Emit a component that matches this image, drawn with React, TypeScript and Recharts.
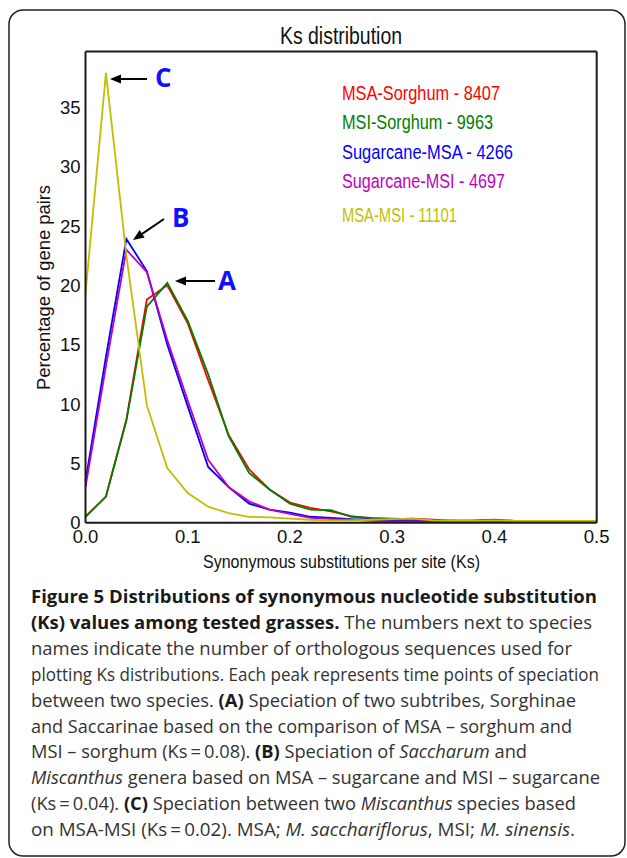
import React from 'react';
import { LineChart, Line, XAxis, YAxis } from 'recharts';

const ksValues = [0, 0.02, 0.04, 0.06, 0.08, 0.1, 0.12, 0.14, 0.16, 0.18, 0.2, 0.22, 0.24, 0.26, 0.28, 0.3, 0.32, 0.34, 0.36, 0.38, 0.4, 0.42, 0.44, 0.46, 0.48, 0.5];
const msaSorghum = [0.5, 2.2, 8.7, 18.8, 20.0, 16.8, 12.0, 7.4, 4.5, 2.8, 1.7, 1.25, 0.95, 0.55, 0.35, 0.3, 0.35, 0.25, 0.15, 0.15, 0.2, 0.15, 0.1, 0.15, 0.15, 0.1];
const msiSorghum = [0.5, 2.2, 8.6, 18.2, 20.2, 17.0, 12.5, 7.3, 4.2, 2.8, 1.6, 1.1, 1.05, 0.5, 0.4, 0.35, 0.3, 0.2, 0.15, 0.2, 0.25, 0.15, 0.15, 0.1, 0.1, 0.1];
const sugarcaneMsa = [3.5, 14.0, 23.9, 21.2, 15.0, 9.8, 4.7, 3.0, 1.6, 1.1, 0.85, 0.5, 0.4, 0.3, 0.25, 0.2, 0.15, 0.1, 0.1, 0.15, 0.1, 0.1, 0.05, 0.05, 0.05, 0.05];
const sugarcaneMsi = [3.0, 13.2, 23.0, 21.1, 15.4, 10.3, 5.3, 3.0, 1.8, 1.1, 0.75, 0.4, 0.3, 0.25, 0.15, 0.1, 0.1, 0.1, 0.2, 0.15, 0.2, 0.1, 0.1, 0.1, 0.1, 0.05];
const msaMsi = [19.3, 37.9, 22.5, 9.9, 4.6, 2.5, 1.35, 0.8, 0.5, 0.45, 0.35, 0.25, 0.2, 0.2, 0.25, 0.3, 0.35, 0.2, 0.15, 0.15, 0.2, 0.15, 0.15, 0.15, 0.15, 0.15];

const xTicks = [0, 0.1, 0.2, 0.3, 0.4, 0.5];
const yTicks = [0, 5, 10, 15, 20, 25, 30, 35];

const seriesKeys = ['msaSorghum', 'msiSorghum', 'sugarcaneMsa', 'sugarcaneMsi', 'msaMsi'];
const seriesLabels = ['MSA-Sorghum - 8407', 'MSI-Sorghum - 9963', 'Sugarcane-MSA - 4266', 'Sugarcane-MSI - 4697', 'MSA-MSI - 11101'];
const seriesColors = ['#ff0000', '#008000', '#0000ff', '#bf00bf', '#bfbf00'];
const seriesValues = [msaSorghum, msiSorghum, sugarcaneMsa, sugarcaneMsi, msaMsi];
const legendWidths = [158, 151, 171, 163, 115];
const legendBaselines = [99.5, 128.5, 158.5, 188, 221.5];

const titleText = 'Ks distribution';
const xLabelText = 'Synonymous substitutions per site (Ks)';
const yLabelText = 'Percentage of gene pairs';
const peakLetters = ['A', 'B', 'C'];

type Seg = { t: string; s?: 'b' | 'i' };
const captionLines: Seg[][] = [
  [{ t: 'Figure 5 Distributions of synonymous nucleotide substitution', s: 'b' }],
  [{ t: '(Ks) values among tested grasses.', s: 'b' }, { t: ' The numbers next to species' }],
  [{ t: 'names indicate the number of orthologous sequences used for' }],
  [{ t: 'plotting Ks distributions. Each peak represents time points of speciation' }],
  [{ t: 'between two species. ' }, { t: '(A)', s: 'b' }, { t: ' Speciation of two subtribes, Sorghinae' }],
  [{ t: 'and Saccarinae based on the comparison of MSA \u2013 sorghum and' }],
  [{ t: 'MSI \u2013 sorghum (Ks\u2009=\u20090.08). ' }, { t: '(B)', s: 'b' }, { t: ' Speciation of ' }, { t: 'Saccharum', s: 'i' }, { t: ' and' }],
  [{ t: 'Miscanthus', s: 'i' }, { t: ' genera based on MSA \u2013 sugarcane and MSI \u2013 sugarcane' }],
  [{ t: '(Ks\u2009=\u20090.04). ' }, { t: '(C)', s: 'b' }, { t: ' Speciation between two ' }, { t: 'Miscanthus', s: 'i' }, { t: ' species based' }],
  [{ t: 'on MSA-MSI (Ks\u2009=\u20090.02). MSA; ' }, { t: 'M. sacchariflorus', s: 'i' }, { t: ', MSI; ' }, { t: 'M. sinensis', s: 'i' }, { t: '.' }],
];
const captionRight = [597, 592, 572, 599, 576, 572, 527, 600, 576, 575];

const data = ksValues.map((ks, i) => {
  const row: Record<string, number> = { ks };
  seriesKeys.forEach((k, j) => {
    row[k] = seriesValues[j][i];
  });
  return row;
});

const SANS = "'Liberation Sans', Arial, sans-serif";
const BOLD = "'Open Sans', 'Noto Sans', sans-serif";
const AX = '#1a1a1a';

function Arrow({ x1, y1, x2, y2 }: { x1: number; y1: number; x2: number; y2: number }) {
  const ang = Math.atan2(y2 - y1, x2 - x1);
  const len = 11;
  const half = 4.5;
  const bx = x2 - len * Math.cos(ang);
  const by = y2 - len * Math.sin(ang);
  const px = -Math.sin(ang) * half;
  const py = Math.cos(ang) * half;
  return (
    <g>
      <line x1={x1} y1={y1} x2={bx} y2={by} stroke="#000" strokeWidth={2} />
      <polygon points={`${x2},${y2} ${bx + px},${by + py} ${bx - px},${by - py}`} fill="#000" />
    </g>
  );
}

export default function App() {
  return (
    <div style={{ position: 'absolute', left: 0, top: 0, width: 627, height: 858, background: '#fff', overflow: 'hidden' }}>
      <div style={{ position: 'absolute', left: 0, top: 0 }}>
        <LineChart width={627} height={600} data={data} margin={{ top: 51.5, right: 30.3, bottom: 47.3, left: 25.5 }}>
          <XAxis
            xAxisId="x"
            dataKey="ks"
            type="number"
            domain={[0, 0.5]}
            ticks={xTicks}
            interval={0}
            height={30}
            tickFormatter={(v: number) => v.toFixed(1)}
            tickLine={false}
            tickSize={0}
            tickMargin={7}
            axisLine={{ stroke: AX, strokeWidth: 2 }}
            tick={{ fill: '#111', fontSize: 18.5, fontFamily: SANS }}
          />
          <XAxis xAxisId="xin" dataKey="ks" type="number" domain={[0, 0.5]} ticks={xTicks} interval={0} mirror orientation="bottom" tick={false} tickSize={5} axisLine={false} tickLine={{ stroke: AX, strokeWidth: 1 }} />
          <XAxis xAxisId="xtop" dataKey="ks" type="number" domain={[0, 0.5]} ticks={xTicks} interval={0} mirror orientation="top" tick={false} tickSize={5} axisLine={{ stroke: AX, strokeWidth: 2 }} tickLine={{ stroke: AX, strokeWidth: 1 }} />
          <YAxis
            yAxisId="y"
            type="number"
            domain={[0, 39.7]}
            ticks={yTicks}
            interval={0}
            width={60}
            tickLine={false}
            tickSize={0}
            tickMargin={5}
            axisLine={{ stroke: AX, strokeWidth: 2 }}
            tick={{ fill: '#111', fontSize: 18.5, fontFamily: SANS }}
          />
          <YAxis yAxisId="yin" type="number" domain={[0, 39.7]} ticks={yTicks} interval={0} mirror orientation="left" tick={false} tickSize={5} axisLine={false} tickLine={{ stroke: AX, strokeWidth: 1 }} />
          <YAxis yAxisId="yr" type="number" domain={[0, 39.7]} ticks={yTicks} interval={0} mirror orientation="right" tick={false} tickSize={5} axisLine={{ stroke: AX, strokeWidth: 2 }} tickLine={{ stroke: AX, strokeWidth: 1 }} />
          {seriesKeys.map((k, j) => (
            <Line
              key={k}
              xAxisId="x"
              yAxisId="y"
              type="linear"
              dataKey={k}
              name={seriesLabels[j]}
              stroke={seriesColors[j]}
              strokeWidth={1.8}
              dot={false}
              activeDot={false}
              isAnimationActive={false}
            />
          ))}
        </LineChart>
      </div>
      <svg width={627} height={858} style={{ position: 'absolute', left: 0, top: 0, pointerEvents: 'none' }}>
        <rect x={9} y={10} width={616} height={846} rx={14} ry={14} fill="none" stroke="#222" strokeWidth={1.5} />
        <text x={280} y={44} fontFamily={SANS} fontSize={23} fill="#111" textLength={122} lengthAdjust="spacingAndGlyphs">{titleText}</text>
        <text x={203} y={568} fontFamily={SANS} fontSize={19} fill="#111" textLength={277} lengthAdjust="spacingAndGlyphs">{xLabelText}</text>
        <text x={0} y={0} transform="translate(50,390) rotate(-90)" fontFamily={SANS} fontSize={19} fill="#111" textLength={205} lengthAdjust="spacingAndGlyphs">{yLabelText}</text>
        {seriesLabels.map((s, j) => (
          <text key={s} x={342} y={legendBaselines[j]} fontFamily={SANS} fontSize={20.5} fill={seriesColors[j]} textLength={legendWidths[j]} lengthAdjust="spacingAndGlyphs">{s}</text>
        ))}
        <Arrow x1={147} y1={79} x2={110} y2={79} />
        <text x={155} y={87} fontFamily={BOLD} fontWeight={700} fontSize={26} fill="#1010ff">{peakLetters[2]}</text>
        <Arrow x1={164} y1={219} x2={133} y2={240} />
        <text x={172} y={227} fontFamily={BOLD} fontWeight={700} fontSize={26} fill="#1010ff">{peakLetters[1]}</text>
        <Arrow x1={215} y1={281} x2={175} y2={281} />
        <text x={218} y={290} fontFamily={BOLD} fontWeight={700} fontSize={26} fill="#1010ff">{peakLetters[0]}</text>
        {captionLines.map((line, i) => (
          <text
            key={i}
            x={31}
            y={603 + i * 25.9}
            fontFamily={BOLD}
            fontSize={18.5}
            fill="#2b2b2b"
            textLength={captionRight[i] - 31}
            lengthAdjust="spacingAndGlyphs"
          >
            {line.map((seg, k) => (
              <tspan key={k} fontWeight={seg.s === 'b' ? 700 : 400} fontStyle={seg.s === 'i' ? 'italic' : 'normal'} fill={seg.s === 'b' ? '#1a1a1a' : '#333'}>{seg.t}</tspan>
            ))}
          </text>
        ))}
      </svg>
    </div>
  );
}
